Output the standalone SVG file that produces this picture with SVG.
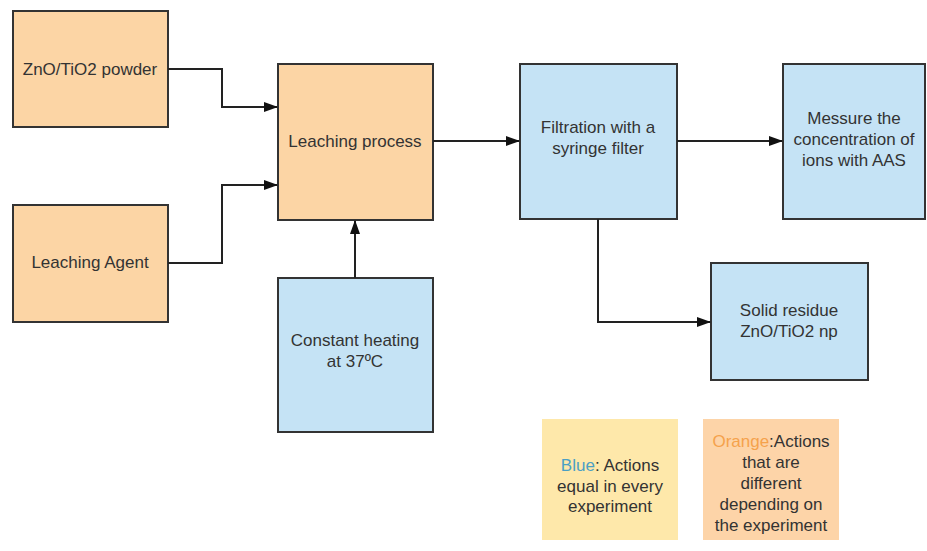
<svg xmlns="http://www.w3.org/2000/svg" width="927" height="551" viewBox="0 0 927 551">
<style>
.o{fill:#fcd5a5;stroke:#333;stroke-width:2}
.b{fill:#c5e3f5;stroke:#333;stroke-width:2}
text{font-family:"Liberation Sans",Arial,sans-serif;font-size:17px;fill:#333;text-anchor:middle}
.c{fill:none;stroke:#222;stroke-width:2}
</style>
<defs>
<marker id="ah" viewBox="0 0 14 10" refX="13" refY="5" markerWidth="14" markerHeight="10" markerUnits="userSpaceOnUse" orient="auto">
<path d="M0,0 L14,5 L0,10 z" fill="#111"/>
</marker>
</defs>
<rect width="927" height="551" fill="#fff"/>
<g id="powder"><rect class="o" x="13" y="11" width="155" height="116"/><text x="90" y="75">ZnO/TiO2 powder</text></g>
<g id="agent"><rect class="o" x="13" y="205" width="155" height="117"/><text x="90" y="268">Leaching Agent</text></g>
<g id="leaching"><rect class="o" x="278" y="64" width="155" height="156"/><text x="355" y="147">Leaching process</text></g>
<g id="heating"><rect class="b" x="278" y="278" width="155" height="154"/><text x="355" y="346">Constant heating</text><text x="355" y="367">at 37ºC</text></g>
<g id="filtration"><rect class="b" x="520" y="64" width="157" height="155"/><text x="598" y="133">Filtration with a</text><text x="598" y="154">syringe filter</text></g>
<g id="measure"><rect class="b" x="783" y="64" width="142" height="155"/><text x="854" y="124">Messure the</text><text x="854" y="145">concentration of</text><text x="854" y="166">ions with AAS</text></g>
<g id="residue"><rect class="b" x="711" y="263" width="157" height="117"/><text x="789" y="316">Solid residue</text><text x="789" y="337">ZnO/TiO2 np</text></g>
<g id="legend-blue"><rect x="542" y="419" width="136" height="121" fill="#fee8aa"/><text x="610" y="471"><tspan fill="#4b9fc4">Blue</tspan>: Actions</text><text x="610" y="492">equal in every</text><text x="610" y="512">experiment</text></g>
<g id="legend-orange"><rect x="703" y="419" width="136" height="121" fill="#fdd4a8"/><text x="771" y="447"><tspan fill="#f5a24c">Orange</tspan>:Actions</text><text x="771" y="468">that are</text><text x="771" y="489">different</text><text x="771" y="510">depending on</text><text x="771" y="531">the experiment</text></g>
<g id="connectors">
<path class="c" d="M168,69 H222 V107 H277" marker-end="url(#ah)"/>
<path class="c" d="M168,263 H222 V185 H277" marker-end="url(#ah)"/>
<path class="c" d="M355,278 V221" marker-end="url(#ah)"/>
<path class="c" d="M433,141 H519" marker-end="url(#ah)"/>
<path class="c" d="M677,141 H782" marker-end="url(#ah)"/>
<path class="c" d="M598,219 V322 H710" marker-end="url(#ah)"/>
</g>
</svg>
